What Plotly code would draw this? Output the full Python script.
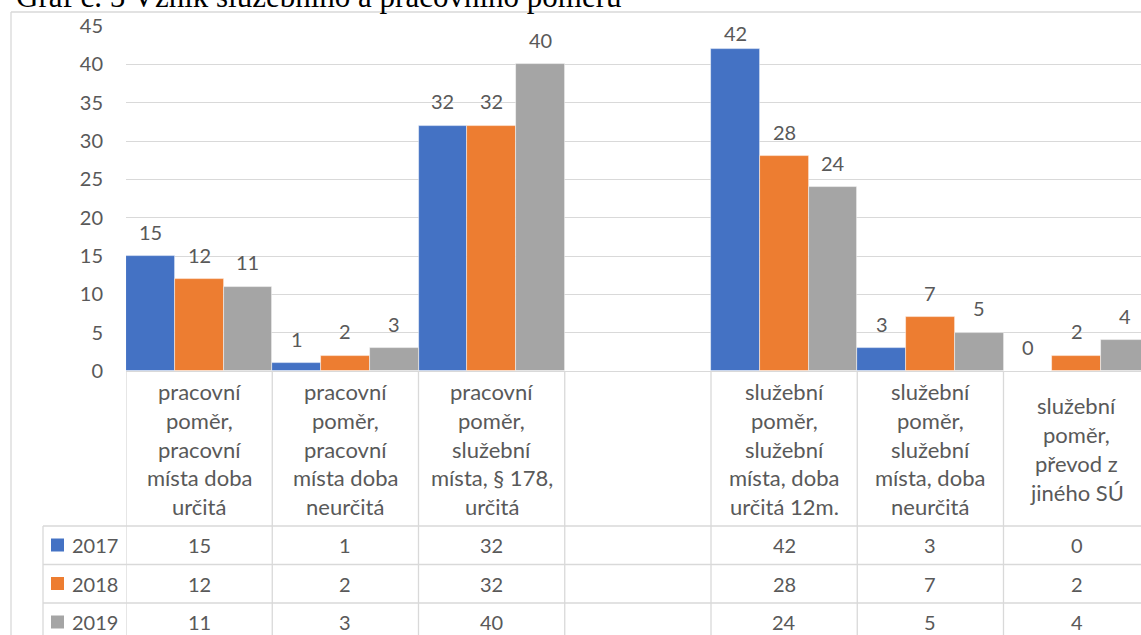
import plotly.graph_objects as go

# --- data -------------------------------------------------------------
categories = [
    "pracovní<br>poměr,<br>pracovní<br>místa doba<br>určitá",
    "pracovní<br>poměr,<br>pracovní<br>místa doba<br>neurčitá",
    "pracovní<br>poměr,<br>služební<br>místa, § 178,<br>určitá",
    "",
    "služební<br>poměr,<br>služební<br>místa, doba<br>určitá 12m.",
    "služební<br>poměr,<br>služební<br>místa, doba<br>neurčitá",
    "služební<br>poměr,<br>převod z<br>jiného SÚ",
]
years = ["2017", "2018", "2019"]
values_2017 = [15, 1, 32, None, 42, 3, 0]
values_2018 = [12, 2, 32, None, 28, 7, 2]
values_2019 = [11, 3, 40, None, 24, 5, 4]
y_ticks = [0, 5, 10, 15, 20, 25, 30, 35, 40, 45]
title_text = "Graf č. 5 Vznik služebního a pracovního poměru"

series = [values_2017, values_2018, values_2019]
colors = ["#4472C4", "#ED7D31", "#A5A5A5"]
TEXT = "#595959"
GRID = "#D9D9D9"
FONT = "Lato"
FS_NUM = 20     # numbers: ticks, value labels, table cells
FS_WORD = 22    # wrapped category names

# --- page geometry (pixels) ------------------------------------------
W, H = 1141, 635
PLOT_L, PLOT_T, PLOT_B = 126, 26, 371
CAT_W = 146.25
ROW_LINES = [526, 564.5, 603]
ROW_CENTERS = [545, 583.5, 622]
LINE_GAP = 28.9
LABEL_MID = 449
Y_MAX = 45
PX_PER_UNIT = (PLOT_B - PLOT_T) / Y_MAX
LABEL_LIFT = 24.5 / PX_PER_UNIT          # value label sits above the bar top
LABEL_CEIL = Y_MAX - 6.7 / PX_PER_UNIT   # labels are kept inside the plot area


def py(ypix):
    return (PLOT_B - ypix) / (PLOT_B - PLOT_T)


def px(xpix):
    return (xpix - PLOT_L) / (W - PLOT_L)


x_pos = list(range(len(categories)))
n_series = len(series)

fig = go.Figure()
for name, vals, col in zip(years, series, colors):
    fig.add_trace(go.Bar(
        x=x_pos, y=vals, name=name,
        marker=dict(color=col, line=dict(color="rgba(255,255,255,0.6)", width=0.8)),
        showlegend=False, hoverinfo="skip",
    ))

annotations = []
shapes = []

# value labels above each bar
for k, vals in enumerate(series):
    off = (k - (n_series - 1) / 2) / n_series
    for i, v in enumerate(vals):
        if v is None:
            continue
        annotations.append(dict(
            x=i + off, y=min(v + LABEL_LIFT, LABEL_CEIL), xref="x", yref="y",
            text=str(v), showarrow=False, yanchor="middle",
            font=dict(family=FONT, size=FS_NUM, color=TEXT),
        ))

# category label cells (one annotation per wrapped line)
for i, lab in enumerate(categories):
    if not lab:
        continue
    lines = lab.split("<br>")
    n = len(lines)
    for j, ln in enumerate(lines):
        yc = LABEL_MID + (j - (n - 1) / 2) * LINE_GAP
        annotations.append(dict(
            x=i, y=py(yc), xref="x", yref="paper", text=ln,
            showarrow=False, yanchor="middle",
            font=dict(family=FONT, size=FS_WORD, color=TEXT),
        ))

# data table rows
for r, (name, vals, col) in enumerate(zip(years, series, colors)):
    yc = ROW_CENTERS[r]
    shapes.append(dict(
        type="rect", xref="paper", yref="paper",
        x0=px(51), x1=px(64), y0=py(yc + 6.5), y1=py(yc - 6.5),
        fillcolor=col, line=dict(width=0),
    ))
    annotations.append(dict(
        x=px(70), y=py(yc), xref="paper", yref="paper", text=name,
        xanchor="left", yanchor="middle", showarrow=False,
        font=dict(family=FONT, size=FS_NUM, color=TEXT),
    ))
    for i, v in enumerate(vals):
        if v is None:
            continue
        annotations.append(dict(
            x=i, y=py(yc), xref="x", yref="paper", text=str(v),
            showarrow=False, yanchor="middle",
            font=dict(family=FONT, size=FS_NUM, color=TEXT),
        ))

# table grid
line_style = dict(color=GRID, width=1.3)
for i in range(len(categories) + 1):
    shapes.append(dict(type="line", xref="x", yref="paper",
                       x0=i - 0.5, x1=i - 0.5, y0=0, y1=py(H + 10), line=line_style))
for yl in ROW_LINES:
    shapes.append(dict(type="line", xref="paper", yref="paper",
                       x0=px(43), x1=px(W + 10), y0=py(yl), y1=py(yl), line=line_style))
shapes.append(dict(type="line", xref="paper", yref="paper",
                   x0=px(43), x1=px(43), y0=py(ROW_LINES[0]), y1=py(H + 10), line=line_style))

# chart frame
shapes.append(dict(type="line", xref="paper", yref="paper",
                   x0=px(11), x1=px(11), y0=py(12), y1=py(H + 10), line=line_style))
shapes.append(dict(type="line", xref="paper", yref="paper",
                   x0=px(11), x1=px(W + 10), y0=py(12), y1=py(12), line=line_style))

# title (runs off the top edge of the page)
annotations.append(dict(
    x=px(14), y=py(16), xref="paper", yref="paper", text=title_text,
    xanchor="left", yanchor="bottom", showarrow=False,
    font=dict(family="Liberation Serif", size=31, color="black"),
))

fig.update_layout(
    width=W, height=H,
    margin=dict(l=PLOT_L, r=0, t=PLOT_T, b=H - PLOT_B, pad=0),
    paper_bgcolor="white", plot_bgcolor="white",
    barmode="group", bargap=0, bargroupgap=0,
    xaxis=dict(range=[-0.5, -0.5 + (W - PLOT_L) / CAT_W], showticklabels=False,
               showgrid=False, zeroline=False, showline=True, linecolor=GRID,
               linewidth=1.3, ticks="", fixedrange=True),
    yaxis=dict(range=[0, Y_MAX], tickvals=y_ticks, showgrid=True, gridcolor=GRID,
               gridwidth=1.3, zeroline=False, showline=False, ticks="",
               ticklabelstandoff=22,
               tickfont=dict(family=FONT, size=FS_NUM, color=TEXT), fixedrange=True),
    annotations=annotations, shapes=shapes,
    font=dict(family=FONT, color=TEXT),
)

fig.write_html("out.html", config={"displayModeBar": False})
